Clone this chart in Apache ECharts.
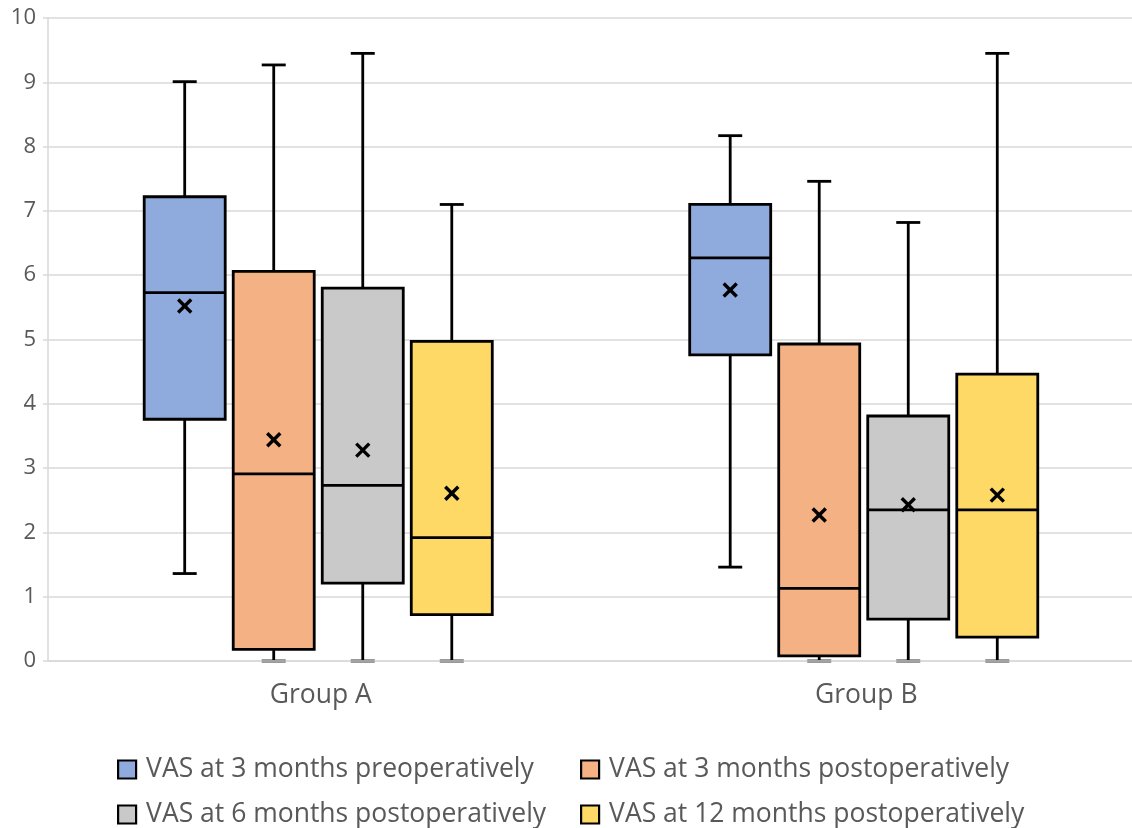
<!DOCTYPE html>
<html>
<head>
<meta charset="utf-8">
<script src="https://cdn.jsdelivr.net/npm/echarts@6/dist/echarts.min.js"></script>
<style>html,body{margin:0;padding:0;background:#fff}#c{width:1132px;height:828px}</style>
</head>
<body>
<div id="c"></div>
<script>
const categories = ['Group A', 'Group B'];
const seriesNames = ['VAS at 3 months preoperatively', 'VAS at 3 months postoperatively', 'VAS at 6 months postoperatively', 'VAS at 12 months postoperatively'];
const seriesColors = ['#8FAADC', '#F4B183', '#C9C9C9', '#FFD966'];
// each entry per group: [low, q1, median, q3, high, mean]
const pre3 = [[1.36, 3.76, 5.73, 7.22, 9.01, 5.52], [1.46, 4.76, 6.27, 7.10, 8.17, 5.77]];
const post3 = [[0, 0.18, 2.91, 6.06, 9.27, 3.44], [0, 0.08, 1.13, 4.93, 7.46, 2.27]];
const post6 = [[0, 1.21, 2.73, 5.80, 9.45, 3.28], [0, 0.65, 2.35, 3.81, 6.82, 2.43]];
const post12 = [[0, 0.72, 1.92, 4.97, 7.10, 2.61], [0, 0.37, 2.35, 4.46, 9.45, 2.58]];
const yTicks = [0, 1, 2, 3, 4, 5, 6, 7, 8, 9, 10];
const allSeries = [pre3, post3, post6, post12];

const FONT = 'Open Sans';
const TXT = '#595959';

function renderBox(params, api) {
  const cat = api.value(0);
  const band = api.size([1, 0])[0];
  const offset = (params.seriesIndex - 1.5) * 0.1632 * band - 0.0046 * band;
  const bw = 0.1485 * band;
  const cap = 0.044 * band;
  const pLow = api.coord([cat, api.value(1)]);
  const pQ1 = api.coord([cat, api.value(2)]);
  const pMed = api.coord([cat, api.value(3)]);
  const pQ3 = api.coord([cat, api.value(4)]);
  const pHigh = api.coord([cat, api.value(5)]);
  const pMean = api.coord([cat, api.value(6)]);
  const cx = pLow[0] + offset;
  const stroke = {stroke: '#000', lineWidth: 2.8};
  const ms = 6.5;
  return {
    type: 'group',
    children: [
      {type: 'line', shape: {x1: cx, y1: pQ3[1], x2: cx, y2: pHigh[1]}, style: stroke},
      {type: 'line', shape: {x1: cx, y1: pQ1[1], x2: cx, y2: pLow[1]}, style: stroke},
      {type: 'line', shape: {x1: cx - cap / 2, y1: pHigh[1], x2: cx + cap / 2, y2: pHigh[1]}, style: stroke},
      {type: 'line', shape: {x1: cx - cap / 2, y1: pLow[1], x2: cx + cap / 2, y2: pLow[1]}, style: stroke},
      {type: 'rect', shape: {x: cx - bw / 2, y: pQ3[1], width: bw, height: pQ1[1] - pQ3[1]},
        style: {fill: api.visual('color'), stroke: '#000', lineWidth: 2.8}},
      {type: 'line', shape: {x1: cx - bw / 2, y1: pMed[1], x2: cx + bw / 2, y2: pMed[1]}, style: stroke},
      {type: 'line', shape: {x1: cx - ms, y1: pMean[1] - ms, x2: cx + ms, y2: pMean[1] + ms}, style: {stroke: '#000', lineWidth: 3.4}},
      {type: 'line', shape: {x1: cx - ms, y1: pMean[1] + ms, x2: cx + ms, y2: pMean[1] - ms}, style: {stroke: '#000', lineWidth: 3.4}}
    ]
  };
}

const series = allSeries.map((arr, si) => ({
  type: 'custom',
  name: seriesNames[si],
  itemStyle: {color: seriesColors[si]},
  renderItem: renderBox,
  encode: {x: 0, y: [1, 2, 3, 4, 5, 6]},
  data: arr.map((d, ci) => [ci].concat(d))
}));

const legendPos = [[117, 756], [580, 756], [117, 801], [580, 801]];
const legends = seriesNames.map((n, i) => ({
  data: [n],
  left: legendPos[i][0],
  top: legendPos[i][1],
  orient: 'horizontal',
  icon: 'rect',
  itemWidth: 18,
  itemHeight: 18,
  itemGap: 0,
  padding: 0,
  selectedMode: false,
  itemStyle: {borderColor: '#000', borderWidth: 2.2},
  textStyle: {fontFamily: FONT, fontSize: 26.5, color: TXT, padding: [0, 0, 0, 5]}
}));

const chart = echarts.init(document.getElementById('c'));
chart.setOption({
  animation: false,
  backgroundColor: '#fff',
  grid: {left: 48, top: 18, width: 1091, bottom: 167, containLabel: false, outerBoundsMode: 'none'},
  legend: legends,
  xAxis: {
    type: 'category',
    data: categories,
    z: 10,
    axisLine: {show: true, lineStyle: {color: '#d9d9d9', width: 1.5}},
    axisTick: {show: false},
    axisLabel: {fontFamily: FONT, fontSize: 26.5, color: TXT, margin: 21},
    splitLine: {show: false}
  },
  yAxis: {
    type: 'value',
    min: yTicks[0],
    max: yTicks[yTicks.length - 1],
    interval: 1,
    axisLine: {show: true, lineStyle: {color: '#d9d9d9', width: 1.5}},
    axisTick: {show: true, length: 5, lineStyle: {color: '#d9d9d9', width: 1.5}},
    axisLabel: {fontFamily: FONT, fontSize: 22, color: TXT, margin: 12},
    splitLine: {show: true, lineStyle: {color: '#d9d9d9', width: 1.5}}
  },
  series: series
});
</script>
</body>
</html>
